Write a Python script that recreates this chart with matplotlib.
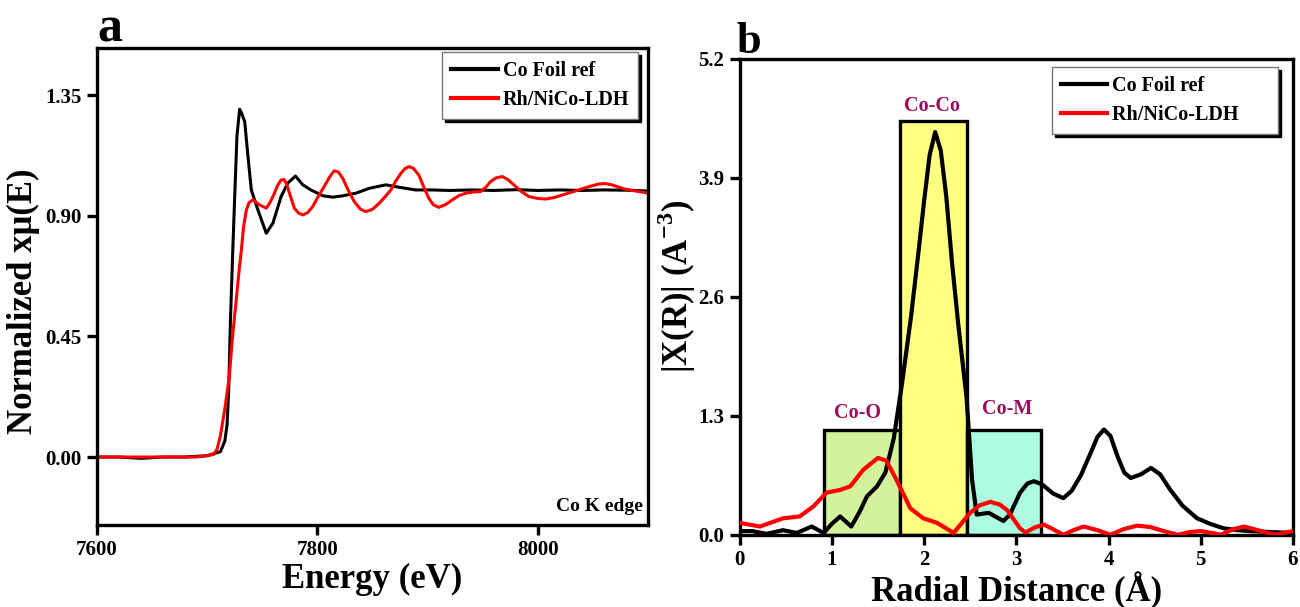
import matplotlib
matplotlib.use("Agg")
import matplotlib.pyplot as plt
from matplotlib.patches import Rectangle

plt.rcParams['font.family'] = ['Liberation Serif', 'DejaVu Serif']
plt.rcParams['font.weight'] = 'bold'
plt.rcParams['mathtext.fontset'] = 'custom'
plt.rcParams['mathtext.rm'] = 'Liberation Serif:bold'
plt.rcParams['mathtext.bf'] = 'Liberation Serif:bold'

# ── panel a: normalized XANES ──
e_foil = [7600, 7620, 7640, 7660, 7680, 7700, 7712, 7716, 7718, 7719.5, 7721, 7723,
          7725, 7727, 7729.4, 7731.5, 7734, 7737, 7740, 7746, 7753.6, 7759.6, 7767,
          7773, 7780, 7786.7, 7794, 7805, 7814, 7823, 7835, 7847, 7862, 7874, 7889,
          7904, 7920, 7940, 7960, 7980, 8000, 8020, 8040, 8060, 8080, 8100]
mu_foil = [0.0, 0.0, -0.005, 0.0, 0.0, 0.005, 0.02, 0.06, 0.12, 0.25, 0.5, 0.75,
           0.98, 1.2, 1.298, 1.28, 1.252, 1.121, 0.997, 0.922, 0.835, 0.873, 0.972,
           1.022, 1.049, 1.016, 0.997, 0.975, 0.970, 0.975, 0.985, 1.003, 1.016, 1.007,
           0.997, 0.997, 0.995, 0.997, 0.995, 0.998, 0.995, 0.997, 0.995, 0.997, 0.996,
           0.993]

e_ldh = [7600, 7650, 7690, 7700, 7706, 7709, 7712, 7716, 7720, 7723, 7726.4, 7729,
         7731, 7733, 7735.5, 7738, 7741.5, 7747.5, 7753.6, 7757, 7761, 7764, 7767,
         7769.5, 7771.7, 7775, 7779, 7783, 7786.7, 7791, 7795.7, 7801, 7806, 7811,
         7815, 7819, 7823, 7828, 7833.5, 7839, 7844, 7850, 7856, 7861, 7866.6, 7871,
         7875.7, 7879.5, 7883, 7887, 7892, 7896, 7901, 7905, 7910, 7916, 7922.4,
         7928, 7934.6, 7941, 7948, 7953, 7957, 7962, 7967.7, 7973, 7980, 7986, 7992,
         8000, 8007, 8015, 8022, 8030, 8037, 8046, 8055, 8061, 8067, 8073, 8079, 8090,
         8100]
mu_ldh = [0.0, 0.0, 0.0, 0.005, 0.01, 0.03, 0.08, 0.18, 0.3, 0.45, 0.59, 0.70,
          0.773, 0.86, 0.922, 0.95, 0.96, 0.941, 0.929, 0.950, 0.985, 1.015, 1.034,
          1.036, 1.022, 0.980, 0.929, 0.910, 0.904, 0.912, 0.935, 0.975, 1.009, 1.045,
          1.068, 1.064, 1.04, 0.995, 0.953, 0.925, 0.916, 0.925, 0.947, 0.970, 0.997,
          1.030, 1.059, 1.077, 1.084, 1.078, 1.052, 1.012, 0.966, 0.942, 0.932, 0.942,
          0.96, 0.975, 0.985, 0.989, 0.991, 1.008, 1.028, 1.042, 1.047, 1.035, 1.009,
          0.988, 0.972, 0.965, 0.963, 0.969, 0.978, 0.988, 0.997, 1.009, 1.019, 1.021,
          1.016, 1.008, 1.0, 0.992, 0.985]

# ── panel b: FT-EXAFS ──
r_foil = [0, 0.14, 0.29, 0.47, 0.62, 0.78, 0.91, 1.0, 1.09, 1.21, 1.3, 1.38, 1.49,
          1.58, 1.67, 1.76, 1.86, 1.94, 2.0, 2.06, 2.12, 2.18, 2.24, 2.3, 2.37, 2.46,
          2.52, 2.57, 2.7, 2.86, 2.93, 3.04, 3.12, 3.19, 3.28, 3.4, 3.51, 3.6, 3.7,
          3.8, 3.88, 3.95, 4.02, 4.1, 4.17, 4.24, 4.35, 4.46, 4.56, 4.67, 4.8, 4.96,
          5.1, 5.25, 5.4, 5.54, 5.75, 6.0]
ft_foil = [0.04, 0.04, 0.01, 0.05, 0.02, 0.09, 0.02, 0.12, 0.2, 0.09, 0.25, 0.42, 0.53,
           0.68, 1.05, 1.65, 2.4, 3.1, 3.65, 4.15, 4.40, 4.2, 3.7, 3.0, 2.3, 1.5,
           0.6, 0.22, 0.24, 0.15, 0.22, 0.46, 0.56, 0.585, 0.55, 0.45, 0.40, 0.48,
           0.65, 0.88, 1.07, 1.15, 1.08, 0.85, 0.68, 0.62, 0.66, 0.73, 0.66, 0.49,
           0.32, 0.18, 0.12, 0.07, 0.05, 0.04, 0.03, 0.02]

r_ldh = [0, 0.22, 0.47, 0.65, 0.8, 0.94, 1.09, 1.2, 1.34, 1.5, 1.59, 1.7, 1.85,
         1.99, 2.14, 2.32, 2.5, 2.6, 2.72, 2.82, 2.9, 2.97, 3.04, 3.1, 3.2, 3.3,
         3.4, 3.51, 3.62, 3.73, 3.88, 4.02, 4.16, 4.31, 4.45, 4.6, 4.75, 4.88, 5.0,
         5.12, 5.22, 5.35, 5.47, 5.62, 5.8, 5.9, 6.0]
ft_ldh = [0.13, 0.09, 0.18, 0.20, 0.31, 0.46, 0.49, 0.53, 0.71, 0.84, 0.81, 0.60,
          0.29, 0.18, 0.13, 0.02, 0.24, 0.32, 0.36, 0.33, 0.27, 0.17, 0.07, 0.025,
          0.08, 0.11, 0.06, 0.0, 0.05, 0.09, 0.05, 0.0, 0.06, 0.10, 0.085, 0.04,
          0.0, 0.03, 0.04, 0.02, 0.0, 0.06, 0.09, 0.05, 0.0, 0.02, 0.04]

shell_names = ['Co-O', 'Co-Co', 'Co-M']
shell_lo = [0.91, 1.74, 2.47]
shell_hi = [1.74, 2.47, 3.27]
shell_top = [1.14, 4.52, 1.14]
shell_label_x = [1.28, 2.09, 2.9]
shell_label_y = [1.22, 4.58, 1.26]
shell_colors = ['#d2f29c', '#ffff80', '#acfde0']

fig = plt.figure(figsize=(13, 6.07), dpi=100)
ax1 = fig.add_axes([0.0746, 0.135, 0.424, 0.786])
ax2 = fig.add_axes([0.569, 0.119, 0.4256, 0.784])

ax1.plot(e_foil, mu_foil, color='black', lw=2.2, label='Co Foil ref')
ax1.plot(e_ldh, mu_ldh, color='red', lw=2.2, label='Rh/NiCo-LDH')
ax1.set_xlim(7600, 8100)
ax1.set_ylim(-0.254, 1.527)
ax1.set_xticks([7600, 7800, 8000])
ax1.set_yticks([0.0, 0.45, 0.90, 1.35])
ax1.set_yticklabels(['0.00', '0.45', '0.90', '1.35'])
ax1.set_xlabel('Energy (eV)', fontsize=25, fontweight='bold', labelpad=2)
ax1.set_ylabel('Normalized xμ(E)', fontsize=25, fontweight='bold')
ax1.yaxis.set_label_coords(-0.103, 0.47)
ax1.text(0.99, 0.022, 'Co K edge', transform=ax1.transAxes, ha='right', va='bottom',
         fontsize=14, fontweight='bold')
ax1.text(0.0, 1.0126, 'a', transform=ax1.transAxes, ha='left', va='baseline',
         fontsize=36, fontweight='bold')

for i in range(len(shell_names)):
    ax2.add_patch(Rectangle((shell_lo[i], 0), shell_hi[i] - shell_lo[i], shell_top[i],
                            facecolor=shell_colors[i], edgecolor='black', lw=2.4, zorder=1))
    ax2.text(shell_label_x[i], shell_label_y[i], shell_names[i], color='#9b0a5f',
             fontsize=14.5, fontweight='bold', ha='center', va='bottom')
ax2.plot(r_foil, ft_foil, color='black', lw=3.0, label='Co Foil ref', zorder=3)
ax2.plot(r_ldh, ft_ldh, color='red', lw=3.0, label='Rh/NiCo-LDH', zorder=3)
ax2.set_xlim(0, 6)
ax2.set_ylim(0, 5.2)
ax2.set_xticks([0, 1, 2, 3, 4, 5, 6])
ax2.set_yticks([0.0, 1.3, 2.6, 3.9, 5.2])
ax2.set_yticklabels(['0.0', '1.3', '2.6', '3.9', '5.2'])
ax2.set_xlabel('Radial Distance (Å)', fontsize=25, fontweight='bold', labelpad=1)
ax2.set_ylabel(r'|X(R)| (A$^{-3}$)', fontsize=25, fontweight='bold')
ax2.yaxis.set_label_coords(-0.076, 0.523)
ax2.text(-0.005, 1.0126, 'b', transform=ax2.transAxes, ha='left', va='baseline',
         fontsize=32, fontweight='bold')

legend_anchor = {ax1: (0.982, 0.992), ax2: (0.973, 0.983)}
legend_pad = {ax1: '', ax2: '      '}
for ax in (ax1, ax2):
    for s in ax.spines.values():
        s.set_linewidth(2.4)
    ax.tick_params(direction='out', length=7, width=2.4, labelsize=15, pad=4)
    for lab in ax.get_xticklabels() + ax.get_yticklabels():
        lab.set_fontweight('bold')
    handles, labels = ax.get_legend_handles_labels()
    labels = [lb + legend_pad[ax] for lb in labels]
    leg = ax.legend(handles, labels, loc='upper right', bbox_to_anchor=legend_anchor[ax],
                    frameon=True, fancybox=False,
                    shadow={'color': 'black', 'alpha': 1.0}, handlelength=2.3,
                    handletextpad=0.25, borderpad=0.45, labelspacing=0.45,
                    borderaxespad=0.0, prop={'weight': 'bold', 'size': 14.5})
    leg.get_frame().set_edgecolor('#777777')
    leg.get_frame().set_linewidth(1.0)
    for line in leg.get_lines():
        line.set_linewidth(3.0)

plt.savefig('out.png', dpi=100)
plt.close()
